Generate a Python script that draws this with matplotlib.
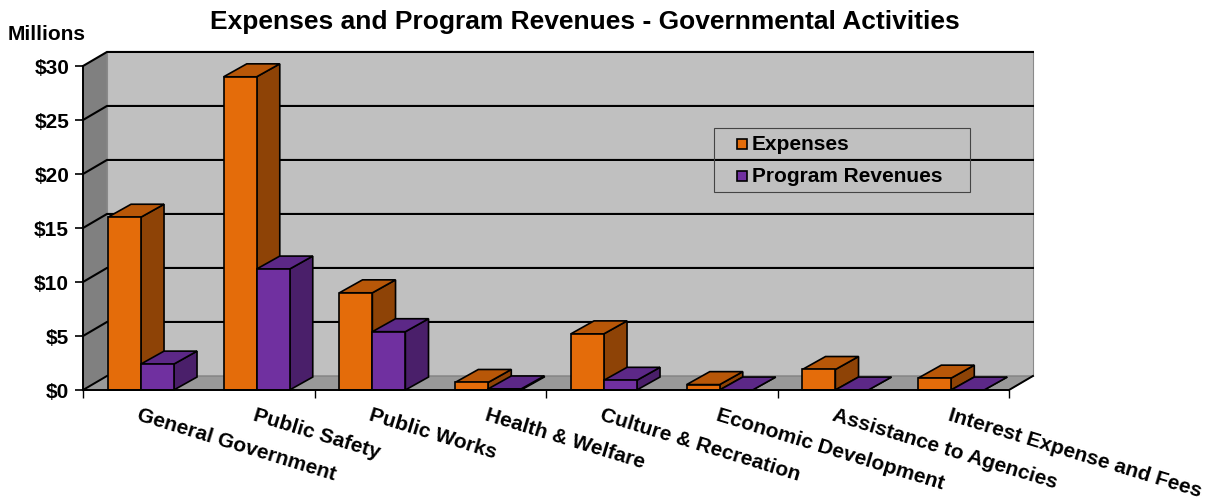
import matplotlib
matplotlib.use("Agg")
import matplotlib.pyplot as plt
from matplotlib.patches import Polygon, Rectangle
from matplotlib.transforms import ScaledTranslation

plt.rcParams['font.family'] = ['Liberation Sans', 'DejaVu Sans']
plt.rcParams['font.weight'] = 'bold'

categories = ["General Government", "Public Safety", "Public Works", "Health & Welfare",
              "Culture & Recreation", "Economic Development", "Assistance to Agencies",
              "Interest Expense and Fees"]
expenses = [16.0, 29.0, 9.0, 0.7, 5.2, 0.5, 1.9, 1.1]
revenues = [2.4, 11.2, 5.4, 0.1, 0.9, 0.0, 0.0, 0.0]
series_names = ["Expenses", "Program Revenues"]
yticks = [0, 5, 10, 15, 20, 25, 30]
ytick_labels = ["$0", "$5", "$10", "$15", "$20", "$25", "$30"]
title = "Expenses and Program Revenues - Governmental Activities"

# colours: front, top, side
orange = ("#E46C0A", "#B85708", "#8E4306")
purple = ("#7030A0", "#5C2887", "#4A1F6A")
wall_back = "#C0C0C0"
wall_left = "#808080"
floor_c = "#999999"

W, H, DPI = 1217, 500, 100
fig = plt.figure(figsize=(W / DPI, H / DPI), dpi=DPI)
ax = fig.add_axes([83 / W, (H - 390) / H, 926 / W, 324 / H])
n = len(categories)
ymax = 30
ax.set_xlim(0, n)
ax.set_ylim(0, ymax)
ax.patch.set_visible(False)

WDX, WDY = 0.207, 1.3   # wall depth
BDX, BDY = 0.20, 1.2    # bar depth
bw = 0.285

# back wall
ax.add_patch(Polygon([(WDX, WDY), (n + WDX, WDY), (n + WDX, ymax + WDY), (WDX, ymax + WDY)],
                     closed=True, fc=wall_back, ec="#8a8a8a", lw=0.8, clip_on=False, zorder=0.5))
# left wall
ax.add_patch(Polygon([(0, 0), (WDX, WDY), (WDX, ymax + WDY), (0, ymax)],
                     closed=True, fc=wall_left, ec="none", clip_on=False, zorder=0.6))
# floor
ax.add_patch(Polygon([(0, 0), (n, 0), (n + WDX, WDY), (WDX, WDY)],
                     closed=True, fc=floor_c, ec="#7a7a7a", lw=0.8, clip_on=False, zorder=0.7))
ax.plot([0, WDX], [0, WDY], color="black", lw=1.4, clip_on=False, zorder=0.8)
ax.plot([n, n + WDX], [0, WDY], color="black", lw=1.4, clip_on=False, zorder=0.8)
# gridlines
for yv in yticks[1:]:
    ax.plot([0, WDX, n + WDX], [yv, yv + WDY, yv + WDY], color="black", lw=1.5,
            clip_on=False, zorder=0.9, solid_joinstyle="miter")


def bar3d(x0, h, cols, z):
    x1 = x0 + bw
    kw = dict(closed=True, ec="black", lw=1.2, clip_on=False, zorder=z, joinstyle="miter")
    ax.add_patch(Polygon([(x1, 0), (x1 + BDX, BDY), (x1 + BDX, h + BDY), (x1, h)], fc=cols[2], **kw))
    ax.add_patch(Polygon([(x0, h), (x1, h), (x1 + BDX, h + BDY), (x0 + BDX, h + BDY)], fc=cols[1], **kw))
    ax.add_patch(Polygon([(x0, 0), (x1, 0), (x1, h), (x0, h)], fc=cols[0], **kw))


for i in range(n):
    c = i + 0.5
    bar3d(c - bw, expenses[i], orange, 2 + i * 0.1)
    bar3d(c, revenues[i], purple, 2.05 + i * 0.1)

# axes styling
for s in ["top", "right"]:
    ax.spines[s].set_visible(False)
for s in ["left", "bottom"]:
    ax.spines[s].set_linewidth(1.4)
    ax.spines[s].set_zorder(3)
ax.set_yticks(yticks)
ax.set_yticklabels(ytick_labels, fontsize=15, fontweight="bold")
ax.tick_params(axis="y", length=6, width=1.2, pad=4)
ax.set_xticks(list(range(0, n + 1, 2)))
ax.set_xticklabels([])
ax.tick_params(axis="x", length=6, width=1.0)

off = ScaledTranslation(0, -16 / DPI, fig.dpi_scale_trans)
for i, lab in enumerate(categories):
    ax.text(i + 0.5, 0, lab, transform=ax.transData + off, rotation=-17,
            rotation_mode="anchor", ha="left", va="top", fontsize=15, fontweight="bold")

fig.text(585 / W, 1 - 22 / H, title, ha="center", va="center", fontsize=19, fontweight="bold")
fig.text(8 / W, 1 - 34 / H, "Millions", ha="left", va="center", fontsize=15, fontweight="bold")

# legend (drawn in figure pixel fractions)
fig.patches.append(Rectangle((714 / W, 1 - 192 / H), 256 / W, 64 / H, transform=fig.transFigure,
                             fill=False, ec="#444444", lw=0.8, zorder=5))
for k, (name, cols) in enumerate(zip(series_names, [orange, purple])):
    yc = 144 + 32 * k
    fig.patches.append(Rectangle((737 / W, 1 - (yc + 5) / H), 10 / W, 10 / H, transform=fig.transFigure,
                                 fc=cols[0], ec="black", lw=1.2, zorder=6))
    fig.text(752 / W, 1 - yc / H, name, ha="left", va="center", fontsize=15, fontweight="bold")

fig.savefig("out.png", dpi=DPI)
